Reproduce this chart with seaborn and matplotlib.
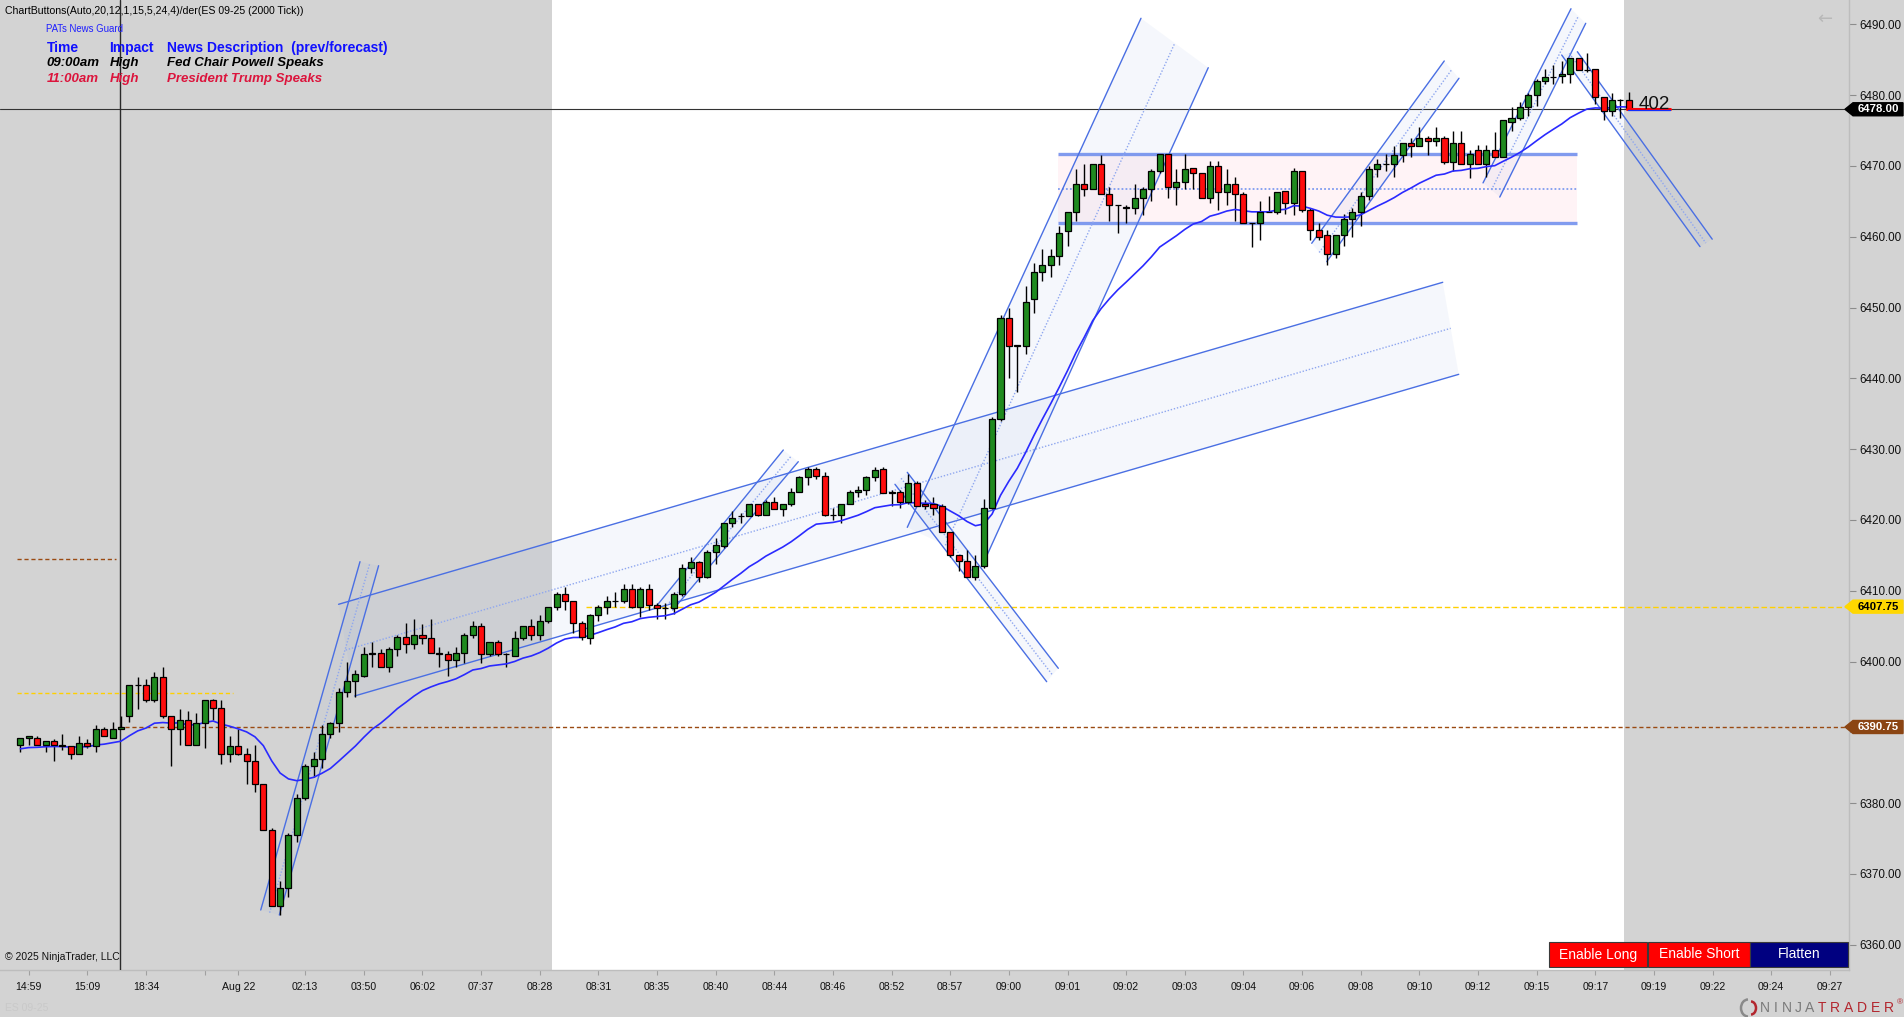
import numpy as np
import pandas as pd
import matplotlib
matplotlib.use("Agg")
import matplotlib.pyplot as plt
import matplotlib.transforms as mtransforms
from matplotlib.patches import Polygon, Rectangle, Arc
import seaborn as sns

# ---------------- data ----------------
opens = [6388.25, 6389.25, 6389.25, 6388.25, 6388.75, 6388.25, 6388.0, 6387.0, 6388.5, 6388.0,
         6390.5, 6389.25, 6390.5, 6392.25, 6396.75, 6396.75, 6394.5, 6397.75, 6392.25, 6390.5,
         6391.75, 6388.25, 6391.25, 6394.5, 6393.5, 6387.0, 6388.0, 6387.0, 6386.0, 6382.75,
         6376.25, 6365.5, 6368.0, 6375.5, 6380.75, 6385.25, 6386.25, 6389.75, 6391.25, 6395.75,
         6397.25, 6398.0, 6401.0, 6401.25, 6399.25, 6401.75, 6403.5, 6402.5, 6403.75, 6403.25,
         6401.25, 6401.0, 6400.25, 6401.25, 6403.75, 6405.0, 6401.0, 6402.75, 6401.0, 6400.75,
         6403.25, 6405.0, 6403.75, 6405.75, 6407.75, 6409.5, 6408.5, 6405.5, 6403.25, 6406.5,
         6407.75, 6408.5, 6408.5, 6410.25, 6407.75, 6410.25, 6408.0, 6407.5, 6407.5, 6409.5,
         6413.25, 6414.0, 6412.0, 6415.5, 6416.25, 6419.5, 6420.5, 6420.5, 6422.25, 6420.75,
         6422.5, 6421.5, 6422.25, 6424.0, 6426.0, 6427.25, 6426.25, 6420.75, 6420.75, 6422.25,
         6424.0, 6424.25, 6426.0, 6427.25, 6423.75, 6424.0, 6422.5, 6425.25, 6422.25, 6422.25,
         6422.0, 6418.25, 6415.0, 6414.25, 6412.0, 6413.5, 6421.75, 6434.25, 6448.5, 6444.75,
         6444.5, 6451.25, 6455.0, 6456.0, 6457.25, 6460.75, 6463.5, 6467.5, 6466.75, 6470.25,
         6466.0, 6464.5, 6464.25, 6464.0, 6465.5, 6466.75, 6469.25, 6471.75, 6467.0, 6467.75,
         6469.75, 6469.0, 6465.5, 6470.0, 6466.25, 6467.5, 6466.0, 6462.0, 6462.0, 6463.5,
         6463.5, 6466.5, 6464.75, 6469.25, 6463.75, 6461.0, 6460.25, 6457.5, 6460.25, 6462.5,
         6463.5, 6465.75, 6469.5, 6470.25, 6470.25, 6471.5, 6473.25, 6472.75, 6474.0, 6473.5,
         6474.0, 6470.5, 6473.25, 6470.25, 6472.25, 6470.25, 6472.25, 6471.25, 6476.25, 6476.75,
         6478.25, 6480.0, 6482.0, 6482.5, 6482.75, 6483.0, 6485.25, 6483.5, 6483.75, 6479.75,
         6477.75, 6479.25, 6479.25]
highs = [6389.25, 6389.5, 6389.5, 6388.75, 6389.0, 6389.75, 6388.0, 6389.5, 6389.0, 6391.0,
         6390.75, 6391.5, 6392.25, 6396.75, 6397.75, 6397.5, 6398.5, 6399.25, 6392.25, 6393.25,
         6393.0, 6392.75, 6394.5, 6394.75, 6394.5, 6389.5, 6390.5, 6387.75, 6388.25, 6382.75,
         6376.5, 6369.0, 6375.75, 6381.25, 6385.5, 6387.25, 6391.0, 6391.5, 6396.25, 6400.0,
         6398.75, 6402.0, 6402.75, 6401.75, 6402.0, 6403.75, 6405.5, 6406.0, 6405.25, 6406.0,
         6402.0, 6401.5, 6402.0, 6404.0, 6405.75, 6405.5, 6402.75, 6403.0, 6401.25, 6404.25,
         6405.0, 6406.0, 6406.5, 6407.75, 6409.75, 6410.5, 6408.5, 6405.75, 6406.75, 6408.0,
         6409.25, 6409.75, 6411.0, 6411.0, 6410.5, 6411.0, 6408.25, 6408.25, 6409.75, 6413.75,
         6414.75, 6414.25, 6415.75, 6417.5, 6419.5, 6421.25, 6421.0, 6422.25, 6422.25, 6422.75,
         6423.25, 6422.25, 6424.5, 6426.25, 6427.5, 6427.5, 6426.75, 6421.75, 6422.25, 6424.25,
         6424.75, 6426.25, 6427.5, 6427.5, 6424.25, 6424.25, 6426.5, 6425.5, 6422.75, 6423.25,
         6422.25, 6418.25, 6415.0, 6415.75, 6415.0, 6423.0, 6434.5, 6449.0, 6450.0, 6444.75,
         6453.0, 6456.25, 6458.25, 6458.25, 6461.5, 6463.5, 6469.5, 6470.25, 6470.25, 6471.5,
         6467.0, 6464.5, 6464.5, 6467.5, 6467.0, 6469.5, 6471.75, 6471.75, 6469.5, 6471.75,
         6469.75, 6469.0, 6470.75, 6470.75, 6469.5, 6468.5, 6466.25, 6462.0, 6465.0, 6465.75,
         6466.25, 6466.5, 6469.75, 6469.25, 6464.0, 6462.0, 6461.0, 6460.25, 6463.25, 6464.0,
         6466.25, 6470.0, 6471.0, 6471.75, 6472.75, 6473.25, 6474.0, 6475.5, 6474.25, 6475.5,
         6474.25, 6475.0, 6475.0, 6472.25, 6473.0, 6473.0, 6474.75, 6476.5, 6478.25, 6479.0,
         6480.25, 6482.25, 6483.75, 6484.25, 6484.75, 6485.25, 6485.25, 6486.0, 6483.75, 6479.75,
         6480.25, 6479.5, 6480.5]
lows = [6387.25, 6388.25, 6388.25, 6387.25, 6386.0, 6387.5, 6386.25, 6387.0, 6387.75, 6387.25,
        6389.5, 6389.25, 6390.5, 6391.5, 6393.25, 6394.25, 6394.25, 6392.0, 6385.25, 6388.25,
        6388.25, 6388.25, 6387.75, 6391.75, 6385.5, 6385.75, 6386.75, 6382.75, 6381.5, 6376.25,
        6365.5, 6364.25, 6366.75, 6374.5, 6380.5, 6383.75, 6385.0, 6389.25, 6390.0, 6395.0,
        6395.0, 6397.75, 6399.25, 6399.25, 6398.5, 6400.75, 6401.25, 6401.75, 6402.5, 6401.25,
        6399.25, 6398.0, 6399.25, 6399.75, 6403.25, 6399.75, 6400.75, 6400.75, 6399.25, 6400.75,
        6403.0, 6403.0, 6403.0, 6405.5, 6407.25, 6407.25, 6404.0, 6403.0, 6402.5, 6405.75,
        6406.75, 6407.75, 6408.25, 6407.5, 6406.25, 6407.25, 6406.0, 6406.0, 6406.75, 6409.25,
        6412.5, 6411.25, 6411.75, 6413.75, 6416.0, 6419.0, 6419.5, 6420.5, 6420.5, 6420.75,
        6421.5, 6420.5, 6422.0, 6424.0, 6425.0, 6425.75, 6420.5, 6420.0, 6419.5, 6422.25,
        6423.25, 6423.5, 6425.5, 6423.75, 6422.0, 6421.75, 6422.25, 6422.0, 6421.5, 6420.75,
        6418.25, 6414.75, 6412.75, 6412.0, 6411.5, 6413.25, 6421.5, 6434.0, 6440.0, 6438.0,
        6443.5, 6449.25, 6453.75, 6454.25, 6456.0, 6458.75, 6462.25, 6465.75, 6466.75, 6466.0,
        6462.25, 6460.5, 6462.0, 6463.25, 6463.0, 6465.0, 6469.0, 6465.5, 6464.5, 6466.75,
        6466.75, 6465.5, 6464.75, 6463.75, 6464.5, 6462.25, 6462.0, 6458.5, 6459.5, 6463.5,
        6463.25, 6463.25, 6463.0, 6463.5, 6459.5, 6459.5, 6456.0, 6457.0, 6458.75, 6460.0,
        6461.5, 6465.25, 6468.5, 6469.25, 6468.5, 6470.5, 6471.25, 6472.75, 6471.5, 6472.75,
        6470.25, 6469.25, 6470.25, 6468.25, 6470.25, 6468.5, 6471.25, 6471.25, 6475.0, 6476.5,
        6477.0, 6478.5, 6481.5, 6481.5, 6481.75, 6481.75, 6483.5, 6483.25, 6478.75, 6476.5,
        6477.0, 6476.75, 6478.0]
closes = [6389.25, 6389.5, 6388.25, 6388.75, 6388.25, 6388.0, 6387.0, 6388.5, 6388.0, 6390.5,
          6389.5, 6390.5, 6390.75, 6396.75, 6396.75, 6394.5, 6397.75, 6392.25, 6390.5, 6391.75,
          6388.25, 6391.25, 6394.5, 6393.5, 6387.0, 6388.0, 6387.0, 6386.0, 6382.75, 6376.25,
          6365.5, 6368.0, 6375.5, 6380.75, 6385.25, 6386.25, 6389.75, 6391.25, 6395.75, 6397.25,
          6398.25, 6401.0, 6401.25, 6399.25, 6401.75, 6403.5, 6402.5, 6403.75, 6403.25, 6401.25,
          6401.0, 6400.25, 6401.25, 6403.75, 6405.0, 6401.0, 6402.75, 6401.0, 6401.0, 6403.25,
          6405.0, 6403.75, 6405.75, 6407.75, 6409.5, 6408.5, 6405.5, 6403.5, 6406.5, 6407.75,
          6408.5, 6408.5, 6410.25, 6407.75, 6410.25, 6408.0, 6407.5, 6407.5, 6409.5, 6413.25,
          6414.0, 6412.0, 6415.5, 6416.5, 6419.5, 6420.25, 6420.5, 6422.25, 6420.75, 6422.5,
          6421.5, 6422.25, 6424.0, 6426.0, 6427.25, 6426.25, 6420.75, 6420.75, 6422.25, 6424.0,
          6424.25, 6426.0, 6427.0, 6423.75, 6424.0, 6422.5, 6425.25, 6422.0, 6422.0, 6421.75,
          6418.25, 6415.0, 6414.25, 6412.0, 6413.5, 6421.75, 6434.25, 6448.5, 6444.5, 6444.5,
          6450.75, 6455.0, 6456.0, 6457.25, 6460.5, 6463.5, 6467.5, 6466.75, 6470.25, 6466.0,
          6464.5, 6464.5, 6464.0, 6465.5, 6466.75, 6469.25, 6471.75, 6467.0, 6467.75, 6469.5,
          6469.0, 6465.5, 6470.0, 6466.25, 6467.5, 6466.0, 6462.0, 6462.0, 6463.5, 6463.5,
          6466.25, 6464.75, 6469.25, 6463.75, 6461.0, 6460.0, 6457.5, 6460.25, 6462.5, 6463.5,
          6465.75, 6469.5, 6470.25, 6470.25, 6471.5, 6473.25, 6472.75, 6474.0, 6473.5, 6474.0,
          6470.5, 6473.25, 6470.25, 6471.75, 6470.25, 6472.25, 6471.25, 6476.5, 6476.75, 6478.25,
          6480.0, 6482.0, 6482.5, 6482.5, 6483.0, 6485.25, 6483.5, 6483.5, 6479.75, 6477.75,
          6479.25, 6479.25, 6478.0]

ema_seed = 6387.5      # indicator value just before the first visible bar
ema_span = 20

time_tick_bars = [1, 8, 15, 22, 26, 34, 41, 48, 55, 62, 69, 76, 83, 90, 97, 104, 111, 118, 125,
                  132, 139, 146, 153, 160, 167, 174, 181, 188, 195, 202, 209, 216]
time_tick_labels = ["14:59", "15:09", "18:34", "", "Aug 22", "02:13", "03:50", "06:02", "07:37",
                    "08:28", "08:31", "08:35", "08:40", "08:44", "08:46", "08:52", "08:57",
                    "09:00", "09:01", "09:02", "09:03", "09:04", "09:06", "09:08", "09:10",
                    "09:12", "09:15", "09:17", "09:19", "09:22", "09:24", "09:27"]
price_ticks = [6360, 6370, 6380, 6390, 6400, 6410, 6420, 6430, 6440, 6450, 6460, 6470, 6480, 6490]

last_price = 6478.00
gold_level = 6407.75
brown_level = 6390.75
prior_gold_level = 6395.5
prior_brown_level = 6414.5
tick_count_text = "402"

session_bars = [63.5, 191.4]
marker_bar = 11.94

zone_bars = [123.9, 185.85]
zone_low, zone_mid, zone_high = 6461.89, 6466.74, 6471.64

# regression channel drawings: (bar, price) end points of upper / middle / lower lines
chan_a_up = [(37.98, 6408.08), (169.79, 6453.56)]
chan_a_mid = [(38.83, 6401.62), (170.74, 6447.06)]
chan_a_low = [(39.90, 6395.13), (171.70, 6440.56)]
chan_b_up = [(28.69, 6364.90), (40.54, 6414.10)]
chan_b_mid = [(29.75, 6364.52), (41.69, 6413.77)]
chan_b_low = [(30.91, 6364.19), (42.76, 6413.53)]
chan_c_up = [(75.87, 6407.74), (91.07, 6429.87)]
chan_c_mid = [(76.95, 6407.60), (91.95, 6428.93)]
chan_c_low = [(77.87, 6407.27), (92.86, 6428.22)]
chan_d_up = [(105.87, 6426.72), (123.90, 6399.04)]
chan_d_mid = [(105.13, 6425.88), (123.20, 6398.10)]
chan_d_low = [(104.40, 6425.03), (122.51, 6397.15)]
chan_e_up = [(105.87, 6418.95), (133.77, 6490.85)]
chan_e_mid = [(110.41, 6416.41), (137.83, 6487.40)]
chan_e_low = [(114.95, 6413.87), (141.80, 6483.87)]
chan_f_up = [(154.15, 6459.07), (169.97, 6484.82)]
chan_f_mid = [(155.04, 6457.77), (170.86, 6483.59)]
chan_f_low = [(155.94, 6456.47), (171.73, 6482.38)]
chan_g_up = [(174.6, 6467.6), (185.1, 6492.2)]
chan_g_mid = [(175.6, 6466.6), (186.0, 6491.2)]
chan_g_low = [(176.6, 6465.6), (186.86, 6490.14)]
chan_h_up = [(185.86, 6486.13), (201.96, 6459.65)]
chan_h_mid = [(184.9, 6485.9), (201.2, 6459.1)]
chan_h_low = [(183.99, 6485.66), (200.5, 6458.6)]

# ---------------- layout ----------------
W, H, DPI = 1904, 1017, 100
PLOT_R, PLOT_B = 1849, 970
X0_PX, BAR_PX = 20.4, 8.377
Y0_PX, PX_PER_PT, P_REF = 24.3, 7.08, 6490.0

BG = "#d3d3d3"
UP = "#1f8a1f"
DN = "#ff0d0d"
CH_LINE = "#4a6fe3"
CH_MID = "#8fa7ef"

sns.set_theme(style="white")
plt.rcParams["font.family"] = ["Liberation Sans", "DejaVu Sans"]

fig = plt.figure(figsize=(W / DPI, H / DPI), dpi=DPI, facecolor=BG)
ax = fig.add_axes([0, (H - PLOT_B) / H, PLOT_R / W, PLOT_B / H])
ax.set_facecolor(BG)

xmin = -X0_PX / BAR_PX
xmax = (PLOT_R - X0_PX) / BAR_PX
ytop = P_REF + Y0_PX / PX_PER_PT
ybot = P_REF - (PLOT_B - Y0_PX) / PX_PER_PT
ax.set_xlim(xmin, xmax)
ax.set_ylim(ybot, ytop)


def fx(px):
    return px / W


def fy(py):
    return 1 - py / H


# session background
ax.axvspan(session_bars[0], session_bars[1], color="white", zorder=0.2, lw=0)

# candles
df = pd.DataFrame({"open": opens, "high": highs, "low": lows, "close": closes})
df["bar"] = np.arange(len(df))
colors = np.where(df.close > df.open, UP, np.where(df.close < df.open, DN, "black"))
ax.vlines(df.bar, df.low, df.high, color="black", lw=1.0, zorder=4)
ax.bar(df.bar, (df.close - df.open).abs(), bottom=np.minimum(df.open, df.close),
       width=0.72, color=colors, edgecolor="black", linewidth=0.9, zorder=5)

# EMA indicator
ema = pd.Series([ema_seed] + closes).ewm(span=ema_span, adjust=False).mean().values[1:]
sns.lineplot(x=df.bar, y=ema, ax=ax, color="#2a2aff", linewidth=1.2, zorder=4.5)

# horizontal levels
ax.axhline(last_price, color="#333333", lw=0.8, zorder=3)
ax.hlines(gold_level, 67.5, xmax, colors="#ffd000", linestyles=(0, (4, 2)), lw=1.0, zorder=3)
ax.hlines(brown_level, 11.7, xmax, colors="#9a4a12", linestyles=(0, (3, 2)), lw=1.0, zorder=3)
ax.hlines(prior_gold_level, -0.39, 25.37, colors="#ffd000", linestyles=(0, (3, 2)), lw=1.0, zorder=3)
ax.hlines(prior_brown_level, -0.39, 11.42, colors="#9a4a12", linestyles=(0, (3, 2)), lw=1.0, zorder=3)

# vertical marker
ax.axvline(marker_bar, color="#2a2a2a", lw=1.0, zorder=3)

# zone
ax.add_patch(Rectangle((zone_bars[0], zone_low), zone_bars[1] - zone_bars[0], zone_high - zone_low,
                       facecolor="#ffdfe6", alpha=0.35, edgecolor="none", zorder=1))
ax.hlines([zone_low, zone_high], zone_bars[0], zone_bars[1], colors="#6284ec", lw=2.4, alpha=0.8, zorder=3)
ax.hlines(zone_mid, zone_bars[0], zone_bars[1], colors="#7f9cf0", linestyles=(0, (1, 1.2)), lw=1.3, zorder=3)


def channel(up, mid, low):
    poly = [up[0], up[1], low[1], low[0]]
    ax.add_patch(Polygon(poly, closed=True, facecolor="#7f9bd8", alpha=0.07, edgecolor="none", zorder=1.5))
    for ln in (up, low):
        ax.plot([ln[0][0], ln[1][0]], [ln[0][1], ln[1][1]], color=CH_LINE, lw=1.0, zorder=3.2)
    ax.plot([mid[0][0], mid[1][0]], [mid[0][1], mid[1][1]], color=CH_MID, lw=1.0,
            linestyle=(0, (1, 1.3)), zorder=3.2)


channel(chan_a_up, chan_a_mid, chan_a_low)
channel(chan_b_up, chan_b_mid, chan_b_low)
channel(chan_c_up, chan_c_mid, chan_c_low)
channel(chan_d_up, chan_d_mid, chan_d_low)
channel(chan_e_up, chan_e_mid, chan_e_low)
channel(chan_f_up, chan_f_mid, chan_f_low)
channel(chan_g_up, chan_g_mid, chan_g_low)
channel(chan_h_up, chan_h_mid, chan_h_low)

# tick counter at last bar
last_bar = len(closes) - 1
ax.plot([last_bar - 0.2, last_bar + 4.9], [6478.09, 6478.09], color="#ff0000", lw=2.2, zorder=6)
ax.plot([last_bar - 0.1, last_bar + 4.9], [6477.92, 6477.92], color="#1030ff", lw=0.9, zorder=6)
ax.text(last_bar + 3.1, 6478.7, tick_count_text, fontsize=13.5, color="#111111", ha="center",
        va="center", zorder=7)

# axes styling
for s in ("top", "left"):
    ax.spines[s].set_visible(False)
for s in ("right", "bottom"):
    ax.spines[s].set_color("#bdbdbd")
    ax.spines[s].set_linewidth(1.0)
ax.yaxis.tick_right()
ax.set_yticks(price_ticks)
# the 6390 label sits under the brown price tag (hidden there), so it is left blank
ax.set_yticklabels(["" if abs(p - brown_level) < 2 else f"{p:.2f}" for p in price_ticks])
ax.tick_params(axis="y", direction="out", length=5, width=0.8, color="#8c8c8c", pad=2.2,
               labelsize=8.4, labelcolor="#111111", right=True, left=False)
ax.set_xticks(time_tick_bars)
ax.set_xticklabels(time_tick_labels)
ax.tick_params(axis="x", direction="out", length=3.6, width=0.8, color="#a0a0a0", pad=5,
               labelsize=7.6, labelcolor="#111111", bottom=True)
ax.set_xlabel("")
ax.set_ylabel("")
ax.grid(False)

# price tags on the axis
tr = mtransforms.blended_transform_factory(ax.transAxes, ax.transData)


def tag(price, text, bg, fg):
    h = 6.5 / PX_PER_PT
    xt, x0, x1 = 1845 / PLOT_R, 1853 / PLOT_R, 1903 / PLOT_R
    ax.add_patch(Polygon([(xt, price), (x0, price + h), (x1, price + h), (x1, price - h), (x0, price - h)],
                         closed=True, transform=tr, facecolor=bg, edgecolor=bg, clip_on=False, zorder=10))
    ax.text(1878 / PLOT_R, price, text, transform=tr, ha="center", va="center", color=fg,
            fontsize=8.2, fontweight="bold", clip_on=False, zorder=11)


tag(last_price, f"{last_price:.2f}", "#000000", "white")
tag(gold_level, f"{gold_level:.2f}", "#ffd700", "black")
tag(brown_level, f"{brown_level:.2f}", "#8b4513", "white")

# ---------------- texts ----------------
fig.text(fx(5), fy(11.5), "ChartButtons(Auto,20,12,1,15,5,24,4)/der(ES 09-25 (2000 Tick))",
         fontsize=7.6, color="black", ha="left", va="center")
fig.text(fx(45.7), fy(28.7), "PATs News Guard", fontsize=6.9, color="#1f1fff", ha="left", va="center")
hdr_y, r1_y, r2_y = 48.3, 63.3, 79.0
cols = [46.7, 109.3, 166.7]
for x, t in zip(cols, ["Time", "Impact", "News Description  (prev/forecast)"]):
    fig.text(fx(x), fy(hdr_y), t, fontsize=10, fontweight="bold", color="#1010ff", ha="left", va="center")
for x, t in zip(cols, ["09:00am", "High", "Fed Chair Powell Speaks"]):
    fig.text(fx(x), fy(r1_y), t, fontsize=9.5, fontweight="bold", style="italic", color="black",
             ha="left", va="center")
for x, t in zip(cols, ["11:00am", "High", "President Trump Speaks"]):
    fig.text(fx(x), fy(r2_y), t, fontsize=9.5, fontweight="bold", style="italic", color="#dc143c",
             ha="left", va="center")

fig.text(fx(5), fy(957), "\u00a9 2025 NinjaTrader, LLC", fontsize=7.5, color="#111111", ha="left", va="center")
fig.text(fx(5), fy(1008), "ES 09-25", fontsize=7.5, color="#c9c9c9", ha="left", va="center")
fig.text(fx(1825), fy(19), "\u2190", fontsize=13, color="#b8b8b8", ha="center", va="center",
         family=["DejaVu Sans"])

# buttons
for (x0, x1, label, colr) in [(1549, 1647, "Enable Long", "#ff0000"),
                              (1648, 1750, "Enable Short", "#ff0000"),
                              (1750, 1848, "Flatten", "#000080")]:
    fig.patches.append(Rectangle((fx(x0), fy(967)), (x1 - x0) / W, 25.5 / H, transform=fig.transFigure,
                                 facecolor=colr, edgecolor="#3a3a3a", lw=0.8, zorder=20))
    fig.text(fx((x0 + x1) / 2), fy(954.5), label, fontsize=10, color="white", ha="center", va="center",
             zorder=21)

# NinjaTrader logo
fig.patches.append(Arc((fx(1748), fy(1008)), 14 / W, 17 / H, theta1=90, theta2=270,
                       transform=fig.transFigure, color="#8a8a8a", lw=1.8))
fig.patches.append(Arc((fx(1751), fy(1008)), 10 / W, 13 / H, theta1=270, theta2=90,
                       transform=fig.transFigure, color="#b3262e", lw=1.8))
for i, ch in enumerate("NINJA"):
    fig.text(fx(1765 + i * 11.1), fy(1008), ch, fontsize=10, color="#7a7a7a", ha="center", va="center")
for i, ch in enumerate("TRADER"):
    fig.text(fx(1822 + i * 13.3), fy(1008), ch, fontsize=10, color="#b3262e", ha="center", va="center")
fig.text(fx(1900), fy(1003), "\u00ae", fontsize=6, color="#b3262e", ha="center", va="center")

fig.savefig("out.png", dpi=DPI, facecolor=BG)
